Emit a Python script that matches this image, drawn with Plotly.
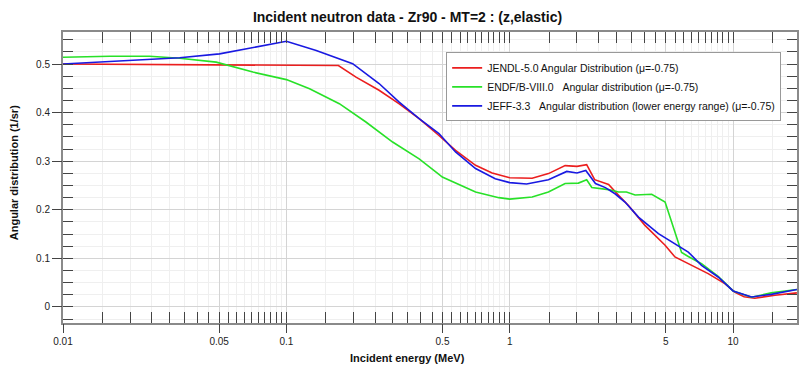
import plotly.graph_objects as go

# ---- data ----
jendl_E = [0.01, 0.171, 0.205, 0.26, 0.319, 0.393, 0.482, 0.572, 0.703, 0.834, 1.0, 1.26, 1.49,
           1.77, 2.0, 2.21, 2.4, 2.77, 3.07, 3.40, 4.03, 4.96, 5.49, 6.52, 7.73, 9.18, 10.2, 11.2,
           12.5, 15.4, 19.3]
jendl_V = [0.5, 0.497, 0.473, 0.446, 0.4185, 0.3876, 0.353, 0.3224, 0.2916, 0.2757, 0.266, 0.265,
           0.2745, 0.291, 0.2895, 0.293, 0.262, 0.252, 0.23, 0.209, 0.168, 0.127, 0.103, 0.0858,
           0.0687, 0.048, 0.030, 0.021, 0.018, 0.024, 0.029]

endf_E = [0.01, 0.0162, 0.0244, 0.0333, 0.0485, 0.0708, 0.1, 0.127, 0.1726, 0.227, 0.299, 0.393,
          0.482, 0.499, 0.703, 0.894, 1.0, 1.26, 1.49, 1.77, 2.03, 2.21, 2.33, 2.77, 3.07, 3.33,
          3.64, 4.32, 4.96, 5.88, 6.30, 7.22, 8.57, 10.0, 12.1, 14.8, 19.3]
endf_V = [0.514, 0.516, 0.516, 0.512, 0.504, 0.4835, 0.468, 0.449, 0.4185, 0.3807, 0.3395, 0.305,
          0.273, 0.2675, 0.2366, 0.225, 0.222, 0.2263, 0.2366, 0.254, 0.255, 0.262, 0.246, 0.2416,
          0.2366, 0.2366, 0.2305, 0.232, 0.216, 0.112, 0.104, 0.089, 0.063, 0.033, 0.020, 0.029,
          0.036]

jeff_E = [0.01, 0.0151, 0.0244, 0.0333, 0.0502, 0.0708, 0.1, 0.136, 0.198, 0.26, 0.319, 0.393,
          0.482, 0.572, 0.703, 0.861, 1.0, 1.19, 1.49, 1.8, 2.0, 2.19, 2.42, 2.68, 2.96, 3.28,
          3.77, 4.63, 5.30, 6.30, 7.22, 8.57, 10.0, 12.1, 14.8, 19.3]
jeff_V = [0.5, 0.504, 0.509, 0.513, 0.521, 0.534, 0.547, 0.528, 0.5008, 0.46, 0.422, 0.3876,
          0.357, 0.319, 0.285, 0.264, 0.256, 0.253, 0.262, 0.279, 0.2757, 0.281, 0.254, 0.2457,
          0.233, 0.216, 0.185, 0.151, 0.1337, 0.113, 0.0858, 0.0617, 0.033, 0.0206, 0.026, 0.036]

names = ["JENDL-5.0 Angular Distribution (\u03bc=-0.75)",
         "ENDF/B-VIII.0\u00a0\u00a0\u00a0Angular distribution (\u03bc=-0.75)",
         "JEFF-3.3\u00a0\u00a0\u00a0Angular distribution (lower energy range) (\u03bc=-0.75)"]

x_major = [0.01, 0.05, 0.1, 0.5, 1, 5, 10]
x_major_text = ["0.01", "0.05", "0.1", "0.5", "1", "5", "10"]
x_minor = ([round(0.005 * k, 4) for k in range(2, 21)] +
           [round(0.05 * k, 3) for k in range(2, 21)] +
           [round(0.5 * k, 2) for k in range(2, 21)] +
           [5.0 * k for k in range(2, 5)])
y_major = [0, 0.1, 0.2, 0.3, 0.4, 0.5]
y_major_text = ["0", "0.1", "0.2", "0.3", "0.4", "0.5"]

x_range = [-2, 1.286]
y_range = [-0.033, 0.566]

FONT = "Liberation Sans, Arial, sans-serif"
AXC = "#8a8a8a"

fig = go.Figure()
for E, V, nm, col in [(jendl_E, jendl_V, names[0], "rgb(235,30,30)"),
                      (endf_E, endf_V, names[1], "rgb(40,225,40)"),
                      (jeff_E, jeff_V, names[2], "rgb(25,25,225)")]:
    fig.add_trace(go.Scatter(x=E, y=V, mode="lines", name=nm,
                             line=dict(color=col, width=1.6), hoverinfo="skip"))

# invisible anchor trace for the overlay axes (labels + outside major ticks)
fig.add_trace(go.Scatter(x=[jendl_E[0]], y=[jendl_V[0]], xaxis="x2", yaxis="y2",
                         mode="markers", marker=dict(opacity=0), showlegend=False,
                         hoverinfo="skip"))

fig.update_layout(
    width=799, height=372,
    margin=dict(l=63, r=0, t=32, b=49),
    paper_bgcolor="white", plot_bgcolor="white",
    font=dict(family=FONT, color="#222"),
    title=dict(text="<b>Incident neutron data - Zr90 - MT=2 : (z,elastic)</b>",
               x=0.51, xanchor="center", y=0.955, yanchor="middle", yref="container",
               font=dict(size=14, family=FONT, color="#111")),
    showlegend=True,
    legend=dict(x=0.522, y=0.93, xanchor="left", yanchor="top",
                bgcolor="white", bordercolor="#999", borderwidth=1,
                font=dict(size=10.5, family=FONT, color="#111"),
                tracegroupgap=0, itemwidth=30),
    xaxis=dict(type="log", range=x_range, showticklabels=False,
               tickmode="array", tickvals=x_major, ticks="inside", ticklen=11,
               tickcolor="#444", tickwidth=1,
               showgrid=True, gridcolor="#d4d4d4", gridwidth=1,
               minor=dict(tickmode="array", tickvals=x_minor, ticks="inside", ticklen=11,
                          tickcolor="#444", showgrid=True, gridcolor="#efefef"),
               showline=True, linecolor=AXC, linewidth=2, mirror="allticks",
               zeroline=False),
    xaxis2=dict(type="log", range=x_range, overlaying="x", anchor="y2", side="bottom",
                tickmode="array", tickvals=x_major, ticktext=x_major_text,
                ticks="outside", ticklen=9, tickcolor="#444", tickwidth=1,
                showgrid=False, showline=False, zeroline=False,
                tickfont=dict(size=10, family=FONT, color="#222")),
    yaxis=dict(range=y_range, showticklabels=False,
               tickmode="array", tickvals=y_major, ticks="inside", ticklen=10,
               tickcolor="#444", tickwidth=1,
               showgrid=True, gridcolor="#d4d4d4", gridwidth=1,
               minor=dict(dtick=0.025, tick0=0, ticks="inside", ticklen=10,
                          tickcolor="#444", showgrid=True, gridcolor="#efefef"),
               showline=True, linecolor=AXC, linewidth=2, mirror="allticks",
               zeroline=False),
    yaxis2=dict(range=y_range, overlaying="y", anchor="x2", side="left",
                tickmode="array", tickvals=y_major, ticktext=y_major_text,
                ticks="outside", ticklen=10, tickcolor="#444", tickwidth=1,
                showgrid=False, showline=False, zeroline=False,
                tickfont=dict(size=10, family=FONT, color="#222")),
    annotations=[
        dict(text="<b>Incident energy (MeV)</b>", xref="paper", yref="paper",
             x=0.470, y=-0.121, xanchor="center", yanchor="middle", showarrow=False,
             font=dict(size=11, family=FONT, color="#111")),
        dict(text="<b>Angular distribution (1/sr)</b>", xref="paper", yref="paper",
             x=-0.0666, y=0.515, xanchor="center", yanchor="middle", showarrow=False,
             textangle=-90, font=dict(size=11, family=FONT, color="#111")),
    ],
)

fig.write_html("out.html")
